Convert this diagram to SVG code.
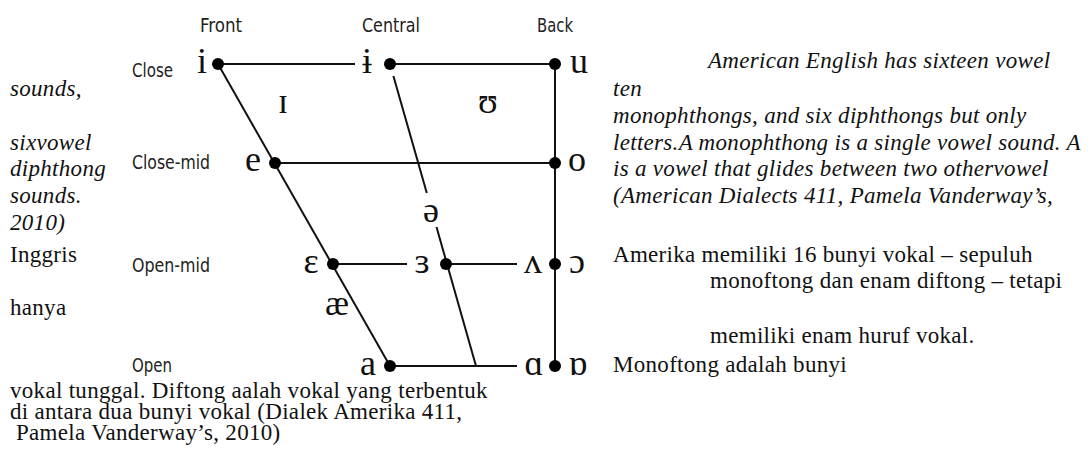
<svg xmlns="http://www.w3.org/2000/svg" width="1092" height="460" viewBox="0 0 1092 460">
<style>
.lbl{font-family:"DejaVu Sans Condensed","Liberation Sans Narrow","DejaVu Sans",sans-serif;font-stretch:condensed;font-size:19px;fill:#222}
.v{font-family:"Liberation Serif","DejaVu Serif",serif;font-size:36px;fill:#111;text-anchor:middle}
.t{font-family:"Liberation Serif","Times New Roman",serif;font-size:23px;letter-spacing:0.3px;fill:#111}
.i{font-style:italic}
.ln{stroke:#111;stroke-width:2;fill:none}
.dot{fill:#000}
</style>
<rect width="1092" height="460" fill="#fff"/>
<g id="connectors">
<line class="ln" x1="218" y1="64" x2="355" y2="64"/>
<line class="ln" x1="390" y1="64" x2="555" y2="64"/>
<line class="ln" x1="275" y1="163" x2="555" y2="163"/>
<line class="ln" x1="333" y1="264" x2="407" y2="264"/>
<line class="ln" x1="446" y1="264" x2="517" y2="264"/>
<line class="ln" x1="390" y1="366" x2="517" y2="366"/>
<line class="ln" x1="555" y1="64" x2="555" y2="366"/>
<line class="ln" x1="218" y1="64" x2="390" y2="366"/>
<line class="ln" x1="393.4" y1="76" x2="426.8" y2="193"/>
<line class="ln" x1="436.5" y1="227" x2="476" y2="366"/>
</g>
<g id="labels">
<text class="lbl" x="200" y="32" textLength="42" lengthAdjust="spacingAndGlyphs">Front</text>
<text class="lbl" x="362" y="32" textLength="58" lengthAdjust="spacingAndGlyphs">Central</text>
<text class="lbl" x="537" y="32" textLength="36" lengthAdjust="spacingAndGlyphs">Back</text>
<text class="lbl" x="132" y="77" textLength="41" lengthAdjust="spacingAndGlyphs">Close</text>
<text class="lbl" x="132" y="169" textLength="78" lengthAdjust="spacingAndGlyphs">Close-mid</text>
<text class="lbl" x="132" y="272" textLength="78" lengthAdjust="spacingAndGlyphs">Open-mid</text>
<text class="lbl" x="132" y="372" textLength="40" lengthAdjust="spacingAndGlyphs">Open</text>
</g>
<g id="v-i"><circle class="dot" cx="218" cy="64" r="6"/><text class="v" x="202" y="73">i</text></g>
<g id="v-barred-i"><circle class="dot" cx="390" cy="64" r="6"/><text class="v" x="367" y="73">ɨ</text></g>
<g id="v-u"><circle class="dot" cx="555" cy="64" r="6"/><text class="v" x="579" y="73">u</text></g>
<g id="v-small-i"><text class="v" x="283" y="113">ɪ</text></g>
<g id="v-upsilon"><text class="v" x="488" y="113">ʊ</text></g>
<g id="v-e"><circle class="dot" cx="275" cy="163" r="6"/><text class="v" x="253" y="171">e</text></g>
<g id="v-o"><circle class="dot" cx="555" cy="163" r="6"/><text class="v" x="577" y="171">o</text></g>
<g id="v-schwa"><text class="v" x="431" y="222">ə</text></g>
<g id="v-epsilon"><circle class="dot" cx="333" cy="264" r="6"/><text class="v" x="311" y="273">ɛ</text></g>
<g id="v-rev-epsilon"><circle class="dot" cx="446" cy="264" r="6"/><text class="v" x="422" y="273">ɜ</text></g>
<g id="v-wedge"><circle class="dot" cx="555" cy="264" r="6"/><text class="v" x="533" y="273">ʌ</text></g>
<g id="v-open-o"><text class="v" x="577" y="273">ɔ</text></g>
<g id="v-ae"><text class="v" x="337" y="315">æ</text></g>
<g id="v-a"><circle class="dot" cx="390" cy="366" r="6"/><text class="v" x="368" y="375">a</text></g>
<g id="v-script-a"><circle class="dot" cx="555" cy="366" r="6"/><text class="v" x="534" y="375">ɑ</text></g>
<g id="v-turned-script-a"><text class="v" x="578" y="375">ɒ</text></g>
<g id="text-left">
<text class="t i" x="10" y="96">sounds,</text>
<text class="t i" x="10" y="150">sixvowel</text>
<text class="t i" x="10" y="176">diphthong</text>
<text class="t i" x="10" y="203">sounds.</text>
<text class="t i" x="10" y="230">2010)</text>
<text class="t" x="10" y="262">Inggris</text>
<text class="t" x="10" y="315">hanya</text>
<text class="t" x="10" y="398">vokal tunggal. Diftong aalah vokal yang terbentuk</text>
<text class="t" x="10" y="419">di antara dua bunyi vokal (Dialek Amerika 411,</text>
<text class="t" x="16" y="440">Pamela Vanderway’s, 2010)</text>
</g>
<g id="text-right">
<text class="t i" x="708" y="68">American English has sixteen vowel</text>
<text class="t i" x="613" y="96">ten</text>
<text class="t i" x="613" y="123">monophthongs, and six diphthongs but only</text>
<text class="t i" x="613" y="150">letters.A monophthong is a single vowel sound. A</text>
<text class="t i" x="613" y="176">is a vowel that glides between two othervowel</text>
<text class="t i" x="613" y="203">(American Dialects 411, Pamela Vanderway’s,</text>
<text class="t" x="613" y="262">Amerika memiliki 16 bunyi vokal – sepuluh</text>
<text class="t" x="710" y="288">monoftong dan enam diftong – tetapi</text>
<text class="t" x="710" y="343">memiliki enam huruf vokal.</text>
<text class="t" x="613" y="372">Monoftong adalah bunyi</text>
</g>
</svg>
